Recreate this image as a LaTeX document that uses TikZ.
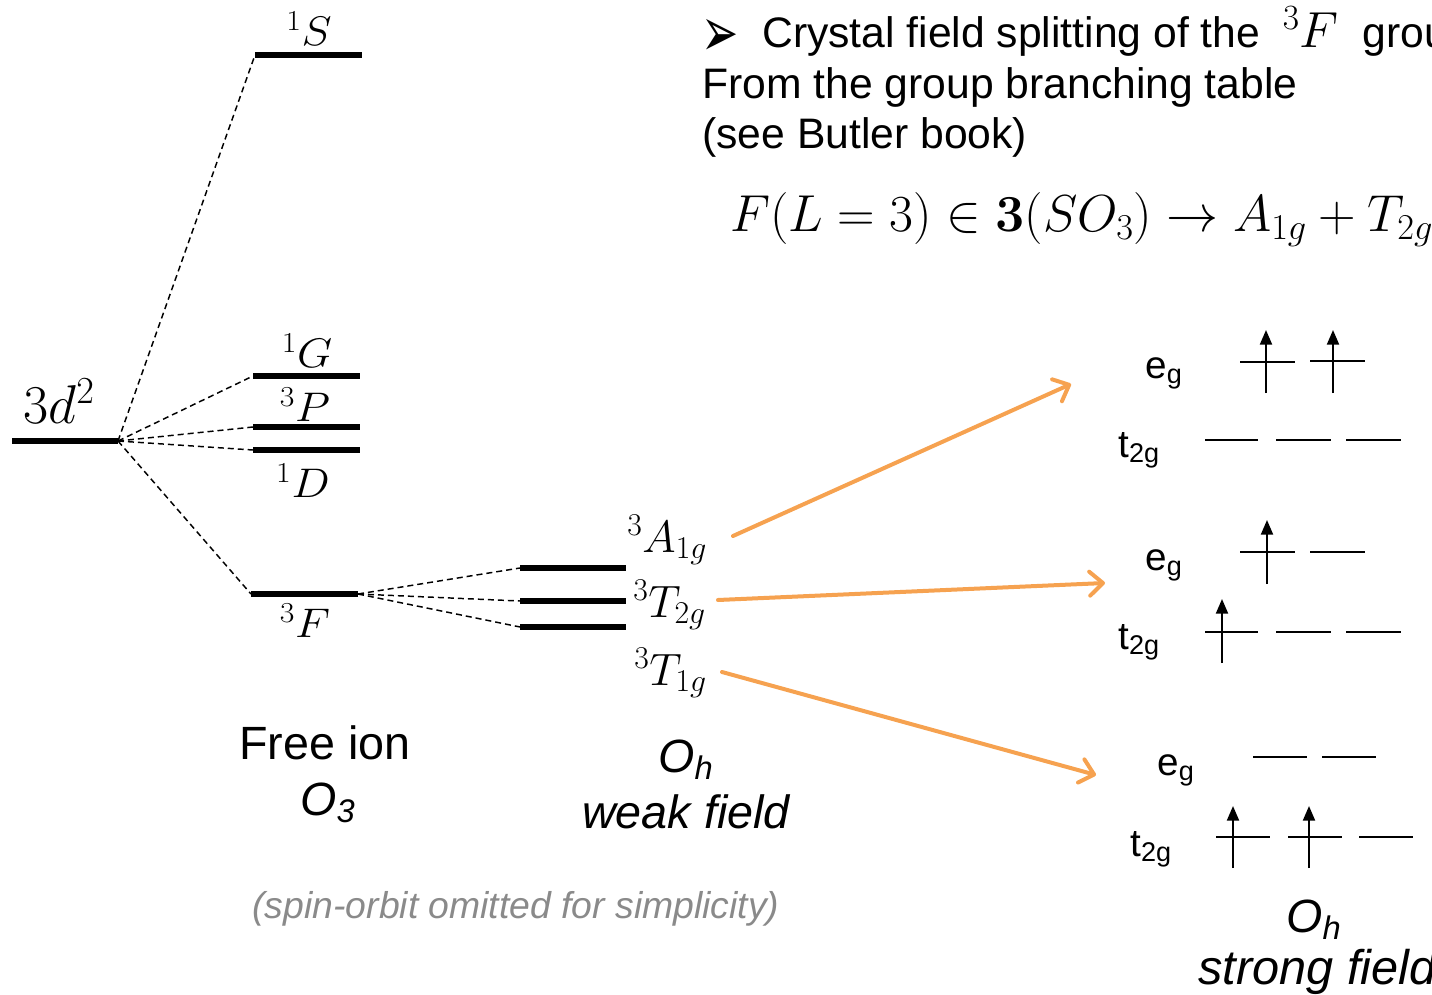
\RequirePackage{fix-cm}
\documentclass[tikz,border=0pt]{standalone}
\usepackage[no-math]{fontspec}
\usepackage{graphicx}
\setmainfont{Liberation Sans}
\newfontfamily\dejavu{DejaVu Sans}
\usetikzlibrary{arrows.meta}
\definecolor{orangeA}{RGB}{246,162,80}
\definecolor{grayT}{RGB}{138,138,138}
\newcommand\hstr[2]{\scalebox{#1}[1]{#2}}
\begin{document}
\begin{tikzpicture}[x=0.75pt,y=-0.75pt,
  lvl/.style={line width=3.8pt},
  dsh/.style={line width=1.1pt,dash pattern=on 4.5pt off 3pt},
  oarr/.style={draw=orangeA,line width=3pt,line cap=round,line join=round,
    -{Straight Barb[length=10pt,width=18pt,line width=3pt,round]}},
  orb/.style={line width=1.6pt},
  elec/.style={line width=1.6pt,-{Triangle[length=11pt,width=9pt]}},
  lab/.style={inner sep=0pt,anchor=base,font=\fontsize{31}{36}\selectfont},
  ohlab/.style={inner sep=0pt,anchor=base west,font=\fontsize{34}{40}\selectfont},
  txt/.style={inner sep=0pt,anchor=base west,font=\fontsize{32}{38}\selectfont},
  big/.style={inner sep=0pt,anchor=base,font=\fontsize{35}{42}\selectfont},
  orblab/.style={inner sep=0pt,anchor=base west,font=\fontsize{29}{34}\selectfont}]
\useasboundingbox (0,0) rectangle (1432,995);
\clip (0,0) rectangle (1432,995);
% ---- free-ion levels
\coordinate (d2a) at (12,441);  \coordinate (d2b) at (118,441);
\coordinate (Sa) at (255,55);   \coordinate (Sb) at (362,55);
\coordinate (Ga) at (253,376);  \coordinate (Gb) at (360,376);
\coordinate (Pa) at (253,427);  \coordinate (Pb) at (360,427);
\coordinate (Da) at (253,450);  \coordinate (Db) at (360,450);
\coordinate (Fa) at (251,594);  \coordinate (Fb) at (358,594);
\coordinate (Aa) at (520,568);  \coordinate (Ab) at (626,568);
\coordinate (T2a) at (520,601); \coordinate (T2b) at (626,601);
\coordinate (T1a) at (520,627); \coordinate (T1b) at (626,627);
\foreach \a/\b in {d2a/d2b,Sa/Sb,Ga/Gb,Pa/Pb,Da/Db,Fa/Fb,Aa/Ab,T2a/T2b,T1a/T1b}
  \draw[lvl] (\a) -- (\b);
\foreach \t in {Sa,Ga,Pa,Da,Fa} \draw[dsh] (d2b) -- (\t);
\foreach \t in {Aa,T2a,T1a} \draw[dsh] (Fb) -- (\t);
% labels
\node[lab,font=\fontsize{41}{46}\selectfont] (l3d) at (59,423) {$3d^2$};
\node[lab] (lS) at (309,46) {\hstr{1.1}{${}^1S$}};
\node[lab] (lG) at (307,367) {\hstr{1.1}{${}^1G$}};
\node[lab] (lP) at (305,421) {\hstr{1.1}{${}^3P$}};
\node[lab] (lD) at (303,497) {\hstr{1.1}{${}^1D$}};
\node[lab] (lF) at (305,637) {\hstr{1.1}{${}^3F$}};
\node[ohlab] (lA1) at (627,552) {${}^3A_{1g}$};
\node[ohlab] (lT2) at (633,617) {${}^3T_{2g}$};
\node[ohlab] (lT1) at (634,685) {${}^3T_{1g}$};
% orange arrows
\coordinate (oA1s) at (733,536);  \coordinate (oA1e) at (1071,384);
\coordinate (oT2s) at (718,600);  \coordinate (oT2e) at (1105,583);
\coordinate (oT1s) at (722,672);  \coordinate (oT1e) at (1096,775);
\draw[oarr] (oA1s) -- (oA1e);
\draw[oarr] (oT2s) -- (oT2e);
\draw[oarr] (oT1s) -- (oT1e);
% ---- strong-field configurations
% block 1
\node[orblab] (eg1) at (1145,378) {e\textsubscript{g}};
\node[orblab] (tg1) at (1118,457) {t\textsubscript{2g}};
\draw[orb] (1240,362) -- (1295,362) (1310,361) -- (1365,361);
\draw[orb] (1205,440) -- (1258,440) (1276,440) -- (1331,440) (1346,440) -- (1401,440);
\coordinate (e1a) at (1266,393); \coordinate (e1b) at (1266,330);
\coordinate (e2a) at (1333,393); \coordinate (e2b) at (1333,330);
\draw[elec] (e1a) -- (e1b);
\draw[elec] (e2a) -- (e2b);
% block 2
\node[orblab] (eg2) at (1145,570) {e\textsubscript{g}};
\node[orblab] (tg2) at (1118,649) {t\textsubscript{2g}};
\draw[orb] (1240,552) -- (1295,552) (1310,552) -- (1365,552);
\draw[orb] (1205,632) -- (1258,632) (1276,632) -- (1331,632) (1346,632) -- (1401,632);
\coordinate (e3a) at (1267,584); \coordinate (e3b) at (1267,520);
\coordinate (e4a) at (1222,663); \coordinate (e4b) at (1222,599);
\draw[elec] (e3a) -- (e3b);
\draw[elec] (e4a) -- (e4b);
% block 3
\node[orblab] (eg3) at (1157,775) {e\textsubscript{g}};
\node[orblab] (tg3) at (1130,856) {t\textsubscript{2g}};
\draw[orb] (1253,757) -- (1307,757) (1322,757) -- (1376,757);
\draw[orb] (1216,837) -- (1270,837) (1288,837) -- (1342,837) (1359,837) -- (1413,837);
\coordinate (e5a) at (1233,868); \coordinate (e5b) at (1233,806);
\coordinate (e6a) at (1309,868); \coordinate (e6b) at (1309,806);
\draw[elec] (e5a) -- (e5b);
\draw[elec] (e6a) -- (e6b);
\node[big] (ohs) at (1314,932) {\itshape O\textsubscript{h}};
\node[big,anchor=base west,font=\fontsize{36.5}{43}\selectfont] (strong) at (1198,984) {\itshape strong field};
% ---- captions
\node[big] (free) at (325,759) {Free ion};
\node[big] (o3) at (328,815) {\itshape O\textsubscript{3}};
\node[big] (ohw) at (686,772) {\itshape O\textsubscript{h}};
\node[big] (weak) at (686,828) {\itshape weak field};
\node[inner sep=0pt,anchor=base,font=\fontsize{28}{33}\selectfont\itshape,text=grayT] (spin) at (516,918) {(spin-orbit omitted for simplicity)};
% ---- top text
\node[inner sep=0pt,anchor=base west,font=\fontsize{29}{34}\selectfont\dejavu] (bul) at (701,57) {\scalebox{1.15}[1.8]{➢}};
\node[txt] (t1) at (762,48) {Crystal field splitting of the\hspace{8pt} {\fontsize{38}{44}\selectfont${}^3F$}\ \ ground state};
\node[txt] (t2) at (702,99) {From the group branching table};
\node[txt] (t3) at (702,149) {(see Butler book)};
\node[txt,font=\fontsize{39}{46}\selectfont] (eq) at (730,232) {$F(L=3)\in\mathbf{3}(SO_3)\rightarrow A_{1g}+T_{2g}+T_{1g}$};
\end{tikzpicture}
\end{document}
